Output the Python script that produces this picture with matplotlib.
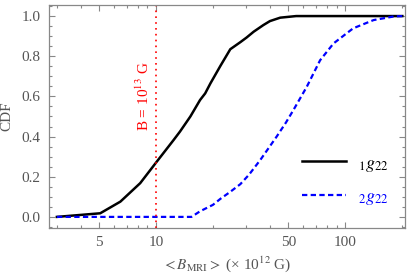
import matplotlib
matplotlib.use("Agg")
import matplotlib.pyplot as plt
from matplotlib.ticker import FixedLocator, NullFormatter, MultipleLocator, FormatStrFormatter

plt.rcParams['font.family'] = ['Liberation Serif', 'DejaVu Serif']
plt.rcParams['mathtext.fontset'] = 'stix'

# CDF of <B_MRI> (x 10^12 G)
b_1g22 = [3, 5.08, 6.49, 8.26, 10.1, 12.4, 13.4, 15.2, 17.1, 18.2, 19.4, 21.9, 24.7,
          27.9, 30.1, 32.8, 36.9, 40.0, 45.3, 55, 80, 200]
cdf_1g22 = [0.0, 0.018, 0.076, 0.168, 0.275, 0.383, 0.425, 0.50, 0.582, 0.615, 0.665, 0.752, 0.835,
            0.870, 0.893, 0.922, 0.955, 0.975, 0.992, 1.0, 1.0, 1.0]

b_2g22 = [3, 15.4, 17.1, 20.0, 21.9, 24.7, 27.9, 31.0, 35.6, 43.4, 48.6, 53.2, 62.6, 73.6,
          86.7, 110, 141, 180, 200]
cdf_2g22 = [0.0, 0.0, 0.028, 0.06, 0.09, 0.125, 0.163, 0.21, 0.284, 0.40, 0.47, 0.532, 0.648, 0.78,
            0.864, 0.939, 0.98, 0.998, 1.0]

b_ref = 10
x_ticks = [5, 10, 50, 100]
x_minor = [3, 4, 6, 7, 8, 9, 20, 30, 40, 60, 70, 80, 90, 200]

GRAY = '#555555'

fig = plt.figure(figsize=(4.13, 2.79), dpi=100)
ax = fig.add_axes([0.119, 0.183, 0.862, 0.799])

ax.plot(b_1g22, cdf_1g22, color='black', lw=1.8, label=r'$_1g_{22}$')
ax.plot(b_2g22, cdf_2g22, color='blue', lw=1.6, ls=(0, (2.4, 1.5)), label=r'$_2g_{22}$')
ax.axvline(b_ref, color='red', ls=(0, (1, 2.5)), lw=1.2)
ax.text(8.57, 0.60, r'B = 10$^{13}$ G', color='red', rotation=90,
        ha='center', va='center', fontsize=11)

ax.set_xscale('log')
ax.set_xlim(2.73, 207)
ax.set_ylim(-0.055, 1.055)
ax.xaxis.set_major_locator(FixedLocator(x_ticks))
ax.xaxis.set_major_formatter(FormatStrFormatter('%d'))
ax.xaxis.set_minor_locator(FixedLocator(x_minor))
ax.xaxis.set_minor_formatter(NullFormatter())
ax.yaxis.set_major_locator(MultipleLocator(0.2))
ax.yaxis.set_major_formatter(FormatStrFormatter('%.1f'))
ax.yaxis.set_minor_locator(MultipleLocator(0.05))

ax.tick_params(which='both', direction='in', top=True, right=True, color='#888888',
               labelcolor=GRAY, labelsize=11, width=0.8)
ax.tick_params(which='major', length=4, pad=6)
ax.tick_params(which='minor', length=2.5)
for s in ax.spines.values():
    s.set_color('#888888')
    s.set_linewidth(0.9)

ax.set_ylabel('CDF', color=GRAY, fontsize=11, labelpad=6)
ax.set_xlabel(r'$<B_{\mathrm{MRI}}>$ (× 10$^{12}$ G)', color=GRAY, fontsize=11, labelpad=4)

leg = ax.legend(loc='lower right', bbox_to_anchor=(1.0, 0.02), frameon=False,
                fontsize=13, handlelength=2.4, handletextpad=0.7, labelspacing=0.8)
for t, c in zip(leg.get_texts(), ['black', 'blue']):
    t.set_color(c)

fig.savefig('out.png', dpi=100)
